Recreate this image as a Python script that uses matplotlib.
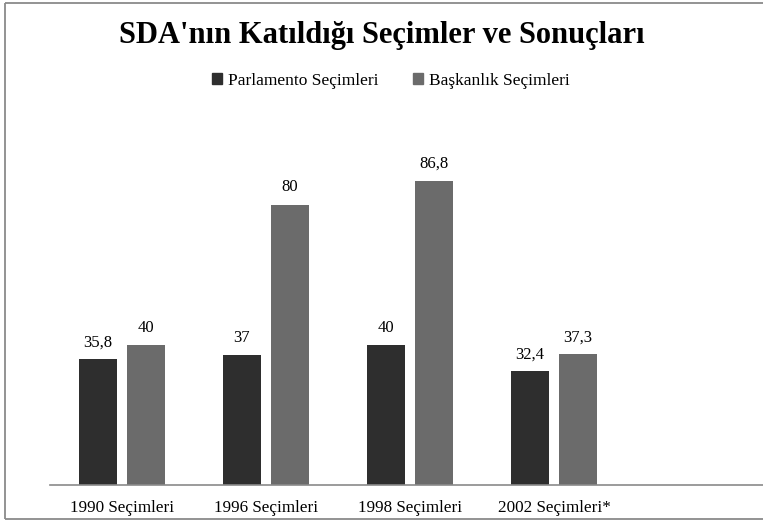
import numpy as np
import matplotlib
matplotlib.use("Agg")
import matplotlib.pyplot as plt
from matplotlib.patches import Patch
from matplotlib.lines import Line2D

# Veriler
kategoriler = ["1990 Seçimleri", "1996 Seçimleri", "1998 Seçimleri", "2002 Seçimleri*"]
parlamento = [35.8, 37, 40, 32.4]
baskanlik = [40, 80, 86.8, 37.3]
seriler = ["Parlamento Seçimleri", "Başkanlık Seçimleri"]

koyu = "#2e2e2e"
gri = "#6b6b6b"
font = "Liberation Serif"

W, H = 763, 522
fig = plt.figure(figsize=(W / 100, H / 100), dpi=100)

# grafik alani (5. kategori bos kaliyor, eksen sag kenara kadar)
ax = fig.add_axes([50 / W, (H - 485) / H, 720 / W, (485 - 130) / H])
ax.patch.set_visible(False)

x = np.arange(len(kategoriler))
w = 0.267
off = 0.1667
b1 = ax.bar(x - off, parlamento, w, color=koyu)
b2 = ax.bar(x + off, baskanlik, w, color=gri)

def etiket(v):
    s = f"{v:g}"
    return s.replace(".", ",")

for bars, vals in [(b1, parlamento), (b2, baskanlik)]:
    for b, v in zip(bars, vals):
        ax.annotate(etiket(v), (b.get_x() + b.get_width() / 2, v),
                    xytext=(0, 6.5), textcoords="offset points",
                    ha="center", va="bottom", fontsize=12, family=font)

ax.set_xlim(-0.5, 4.5)
ax.set_ylim(0, 355 / 3.506)
ax.set_xticks(x)
ax.set_xticklabels(kategoriler, fontsize=12.3, family=font)
ax.tick_params(axis="x", length=0, pad=10.5)
ax.set_yticks([])
for s in ["top", "right", "left"]:
    ax.spines[s].set_visible(False)
ax.spines["bottom"].set_color("#8a8a8a")
ax.spines["bottom"].set_linewidth(1.2)

# baslik ve lejant
fig.text(0.5, 1 - 36 / H, "SDA'nın Katıldığı Seçimler ve Sonuçları",
         ha="center", va="center", fontsize=22, fontweight="bold", family=font)

handles = [Patch(color=koyu), Patch(color=gri)]
fig.legend(handles, seriler, loc="center", bbox_to_anchor=(0.512, 1 - 81 / H),
           ncol=2, frameon=False, prop={"family": font, "size": 12.5},
           handlelength=0.6, handleheight=0.6, handletextpad=0.3,
           columnspacing=2.0)

# dis cerceve: sol, ust ve alt kenar ayri cizgiler
xl, xr = 5 / W, 0.9995
yt, yb = 1 - 3 / H, 1 - 519 / H
for xs, ys in [([xl, xl], [yb, yt]), ([xl, xr], [yt, yt]), ([xl, xr], [yb, yb])]:
    fig.add_artist(Line2D(xs, ys, transform=fig.transFigure,
                          color="#8a8a8a", linewidth=1.3, solid_capstyle="butt"))

fig.savefig("out.png", dpi=100)
